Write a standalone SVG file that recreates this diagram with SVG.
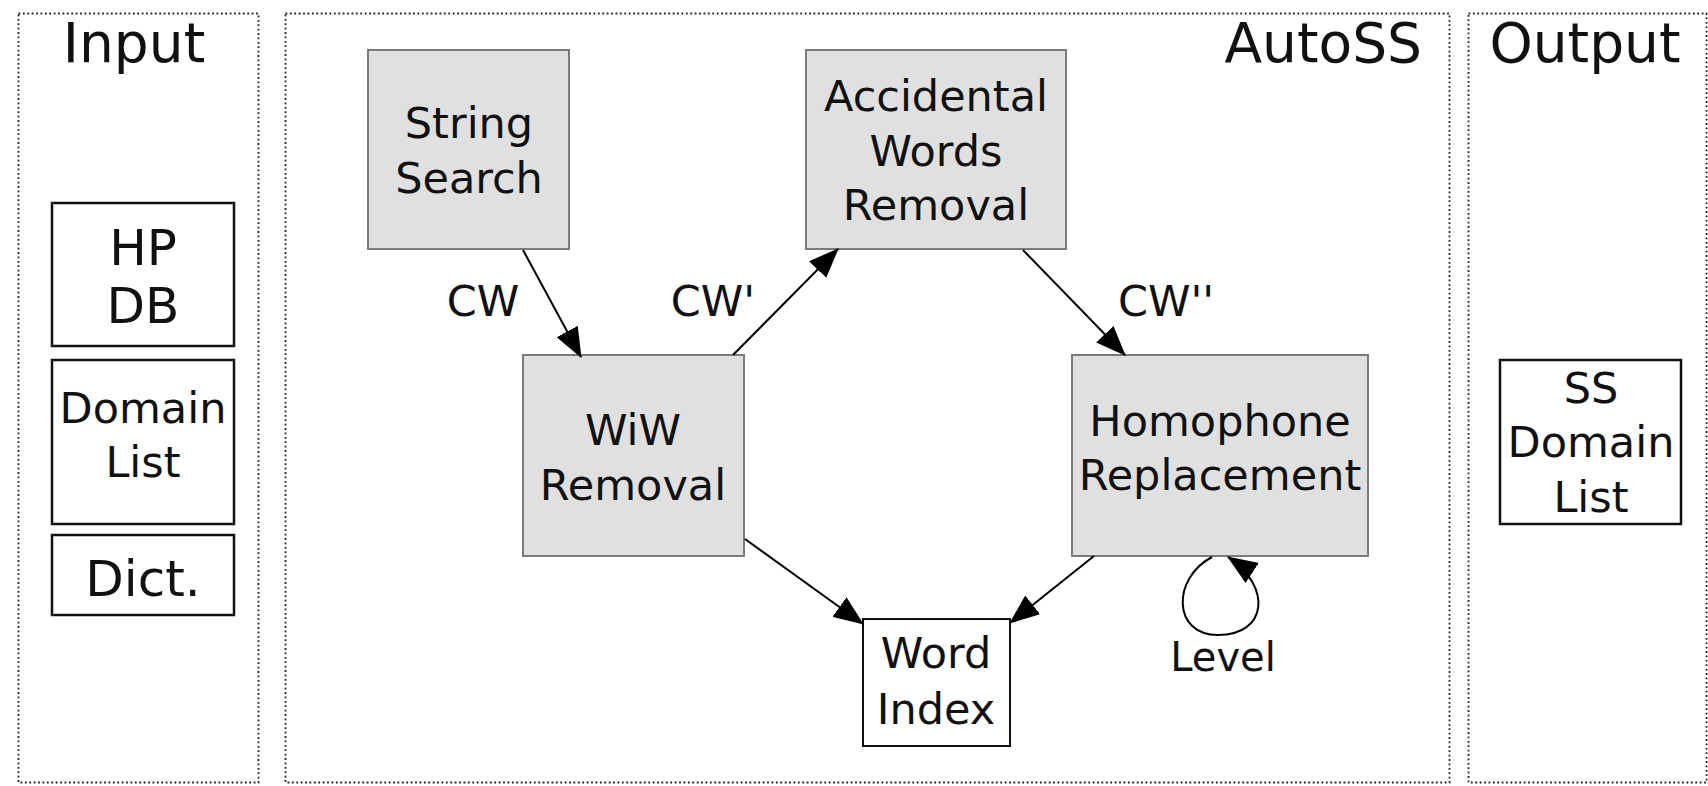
<svg xmlns="http://www.w3.org/2000/svg" width="1708" height="786" viewBox="0 0 1708 786">
<style>
  text { font-family: "DejaVu Sans", "Liberation Sans", sans-serif; fill: #111; text-anchor: middle; }
  .panel { fill: none; stroke: #222; stroke-width: 1.8; stroke-dasharray: 1.8 2.6; }
  .title { font-size: 55px; }
  .proc { fill: #e0e0e0; stroke: #7a7a7a; stroke-width: 2; }
  .data { fill: #fff; stroke: #111; stroke-width: 2.5; }
  .t43 { font-size: 43px; }
  .t50 { font-size: 50px; }
  .edge { fill: none; stroke: #000; stroke-width: 2; marker-end: url(#arr); }
  .lbl { font-size: 43px; }
</style>
<defs>
  <marker id="arr" markerUnits="userSpaceOnUse" markerWidth="30" markerHeight="24" refX="29" refY="12" orient="auto">
    <path d="M0,0 L30,12 L0,24 Z" fill="#000"/>
  </marker>
</defs>
<rect width="1708" height="786" fill="#fff"/>

<g id="panels">
  <rect class="panel" x="18.5" y="13.5" width="240" height="769"/>
  <rect class="panel" x="285.5" y="13.5" width="1164" height="769"/>
  <rect class="panel" x="1468.5" y="13.5" width="238" height="769"/>
  <text class="title" x="134" y="62">Input</text>
  <text class="title" x="1422" y="62" style="text-anchor:end">AutoSS</text>
  <text class="title" x="1585" y="62">Output</text>
</g>

<g id="hpdb">
  <rect class="data" x="52" y="203" width="182" height="143"/>
  <text class="t50" x="143" y="265">HP</text>
  <text class="t50" x="143" y="323">DB</text>
</g>
<g id="domainlist">
  <rect class="data" x="52" y="360" width="182" height="164"/>
  <text class="t43" x="143" y="423">Domain</text>
  <text class="t43" x="143" y="477">List</text>
</g>
<g id="dict">
  <rect class="data" x="52" y="535" width="182" height="80"/>
  <text class="t50" x="143" y="596">Dict.</text>
</g>

<g id="stringsearch">
  <rect class="proc" x="368" y="50" width="201" height="199"/>
  <text class="t43" x="469" y="138">String</text>
  <text class="t43" x="469" y="193">Search</text>
</g>
<g id="accidental">
  <rect class="proc" x="806" y="50" width="260" height="199"/>
  <text class="t43" x="936" y="111">Accidental</text>
  <text class="t43" x="936" y="166">Words</text>
  <text class="t43" x="936" y="220">Removal</text>
</g>
<g id="wiw">
  <rect class="proc" x="523" y="355" width="221" height="201"/>
  <text class="t43" x="633" y="445">WiW</text>
  <text class="t43" x="633" y="500">Removal</text>
</g>
<g id="homophone">
  <rect class="proc" x="1072" y="355" width="296" height="201"/>
  <text class="t43" x="1220" y="436">Homophone</text>
  <text class="t43" x="1220" y="490">Replacement</text>
</g>
<g id="wordindex">
  <rect class="data" x="863" y="619" width="147" height="127" style="stroke-width:2"/>
  <text class="t43" x="936" y="668">Word</text>
  <text class="t43" x="936" y="724">Index</text>
</g>
<g id="ssdomainlist">
  <rect class="data" x="1500" y="360" width="181" height="164"/>
  <text class="t43" x="1591" y="403">SS</text>
  <text class="t43" x="1591" y="457">Domain</text>
  <text class="t43" x="1591" y="512">List</text>
</g>

<g id="connectors">
  <path class="edge" d="M523,250 L581,357"/>
  <path class="edge" d="M733,355 L838,249"/>
  <path class="edge" d="M1023,250 L1125,355"/>
  <path class="edge" d="M745,539 L863,624"/>
  <path class="edge" d="M1094,556 L1010,623"/>
  <path class="edge" d="M1212,557 C1172,578 1172,635 1218,635 C1268,635 1272,586 1228,557"/>
  <text class="lbl" x="483" y="316">CW</text>
  <text class="lbl" x="713" y="316">CW'</text>
  <text class="lbl" x="1166" y="316">CW''</text>
  <text x="1223" y="671" style="font-size:40px">Level</text>
</g>
</svg>
